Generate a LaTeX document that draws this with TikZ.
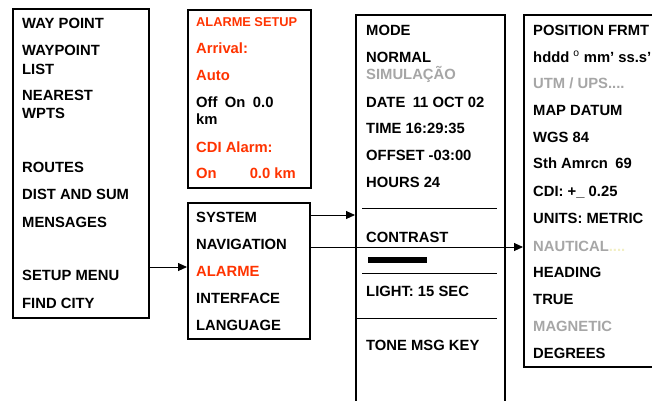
\documentclass[tikz,border=0pt]{standalone}
\usepackage{fontspec}
\setmainfont{Liberation Sans}
\usetikzlibrary{arrows.meta}
\definecolor{alarmred}{HTML}{FF3300}
\definecolor{dimgray}{HTML}{A6A6A6}
\definecolor{paleyellow}{HTML}{F2EFC4}

\begin{document}
\begin{tikzpicture}[x=1pt,y=-1pt,
  box/.style={draw, line width=1.8pt, anchor=north west, inner sep=0pt},
  item/.style={anchor=base west, inner sep=0pt, font=\bfseries\fontsize{14.8}{17}\selectfont},
  hot/.style={item, text=alarmred},
  dim/.style={item, text=dimgray},
  divider/.style={line width=0.9pt},
  arr/.style={line width=0.9pt, -{Triangle[length=9pt,width=8pt]}}]
\useasboundingbox (0,0) rectangle (652,400);
\clip (0,0) rectangle (652,400);

% menu frames
\node[box, line width=2.2pt, minimum width=136pt, minimum height=309pt] (mainmenu) at (12,8) {};
\node[box, minimum width=123pt, minimum height=178pt] (alarmbox) at (187,9) {};
\node[box, minimum width=122pt, minimum height=136pt] (setupbox) at (187,202) {};
\node[box, minimum width=149pt, minimum height=420pt] (systembox) at (355,14) {};
\node[box, minimum width=160pt, minimum height=352pt] (navbox) at (523,14) {};

% main menu
\node[item] (m1) at (22,28) {WAY POINT};
\node[item] (m2) at (22,55) {WAYPOINT};
\node[item] (m3) at (22,74) {LIST};
\node[item] (m4) at (22,100) {NEAREST};
\node[item] (m5) at (22,118) {WPTS};
\node[item] (m6) at (22,172) {ROUTES};
\node[item] (m7) at (22,199) {DIST AND SUM};
\node[item] (m8) at (22,227) {MENSAGES};
\node[item] (m9) at (22,280) {SETUP MENU};
\node[item] (m10) at (22,308) {FIND CITY};

% alarm setup
\node[hot, font=\bfseries\fontsize{12.8}{15}\selectfont] (a1) at (196,26) {ALARME SETUP};
\node[hot] (a2) at (196,53) {Arrival:};
\node[hot] (a3) at (196,80) {Auto};
\node[item] (a4) at (196,107) {Off\enspace On\enspace 0.0};
\node[item] (a5) at (196,124) {km};
\node[hot] (a6) at (196,152) {CDI Alarm:};
\node[hot] (a7) at (196,178) {On\hspace{33pt}0.0 km};

% setup menu
\node[item] (s1) at (196,222) {SYSTEM};
\node[item] (s2) at (196,249) {NAVIGATION};
\node[hot] (s3) at (196,276) {ALARME};
\node[item] (s4) at (196,303) {INTERFACE};
\node[item] (s5) at (196,330) {LANGUAGE};

% system settings
\node[item] (y1) at (366,35) {MODE};
\node[item] (y2) at (366,62) {NORMAL};
\node[dim] (y3) at (366,79) {SIMULAÇÃO};
\node[item] (y4) at (366,107) {DATE\enspace 11 OCT 02};
\node[item] (y5) at (366,133) {TIME 16:29:35};
\node[item] (y6) at (366,160) {OFFSET -03:00};
\node[item] (y7) at (366,187) {HOURS 24};
\node[item] (y8) at (366,242) {CONTRAST};
\node[item] (y9) at (366,296) {LIGHT: 15 SEC};
\node[item] (y10) at (366,350) {TONE MSG KEY};
\draw[divider] (362,208) -- (497,208);
\draw[divider] (362,273) -- (497,273);
\draw[divider] (355,318) -- (497,318);
\fill (368,257) rectangle (427,263);

% navigation settings
\node[item] (n1) at (533,35) {POSITION FRMT};
\node[item] (n2) at (533,62) {hddd \textsuperscript{\mdseries o} mm’ ss.s’};
\node[dim] (n3) at (533,88) {UTM / UPS....};
\node[item] (n4) at (533,115) {MAP DATUM};
\node[item] (n5) at (533,142) {WGS 84};
\node[item] (n6) at (533,168) {Sth Amrcn\enspace 69};
\node[item] (n7) at (533,196) {CDI: +\_ 0.25};
\node[item] (n8) at (533,223) {UNITS: METRIC};
\node[dim] (n9) at (533,251) {NAUTICAL\textcolor{paleyellow}{....}};
\node[item] (n10) at (533,277) {HEADING};
\node[item] (n11) at (533,304) {TRUE};
\node[dim] (n12) at (533,331) {MAGNETIC};
\node[item] (n13) at (533,358) {DEGREES};

% links between menus
\coordinate (setuplink) at (0,267);
\coordinate (syslink) at (0,215);
\coordinate (navlink) at (0,247);
\draw[arr] (mainmenu.east |- setuplink) -- (setupbox.west |- setuplink);
\draw[arr] (setupbox.east |- syslink) -- (systembox.west |- syslink);
\draw[arr] (setupbox.east |- navlink) -- (navbox.west |- navlink);
\end{tikzpicture}
\end{document}
